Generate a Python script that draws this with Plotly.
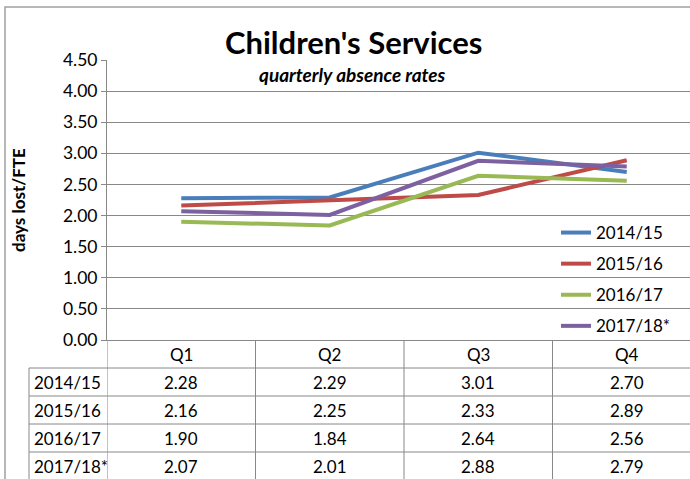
import plotly.graph_objects as go

quarters = ["Q1", "Q2", "Q3", "Q4"]
series_names = ["2014/15", "2015/16", "2016/17", "2017/18*"]
v_1415 = [2.28, 2.29, 3.01, 2.70]
v_1516 = [2.16, 2.25, 2.33, 2.89]
v_1617 = [1.90, 1.84, 2.64, 2.56]
v_1718 = [2.07, 2.01, 2.88, 2.79]
series_values = [v_1415, v_1516, v_1617, v_1718]
colors = ["#4A7EBB", "#BE4B48", "#98B954", "#7D60A0"]

W, H = 690, 479
L, T = 107, 60
PW = W - L            # plot width in px
PH = H - T            # paper height in px
GRID = "#888888"
FONT = "Lato"
FS = 17.5
TFS = 17

def px_x(px):
    return (px - L) / PW

def px_y(py):
    return (H - py) / PH

fig = go.Figure()
for name, vals, c in zip(series_names, series_values, colors):
    fig.add_trace(go.Scatter(
        x=quarters, y=vals, name=name, mode="lines",
        line=dict(color=c, width=4), legendgroup=name,
        xaxis="x", yaxis="y"))

table_h = H - 340
fig.update_layout(
    width=W, height=H,
    margin=dict(l=L, r=0, t=T, b=0, autoexpand=False),
    paper_bgcolor="white", plot_bgcolor="white",
    font=dict(family=FONT, size=FS, color="black"),
    showlegend=True,
    legend=dict(x=px_x(556), y=px_y(215), xanchor="left", yanchor="top",
                bgcolor="rgba(0,0,0,0)", font=dict(size=TFS, family=FONT),
                tracegroupgap=6, itemwidth=30),
    xaxis=dict(type="category", range=[-0.5, -0.5 + PW / 148.5],
               showgrid=False, showline=True, linecolor=GRID, linewidth=1,
               ticks="", showticklabels=False,
               anchor="y", zeroline=False, automargin=False),
    yaxis=dict(domain=[table_h / PH, 1], range=[0, 4.5], dtick=0.5,
               tickformat=".2f", showgrid=True, gridcolor=GRID, gridwidth=1,
               showline=True, linecolor=GRID, linewidth=1,
               ticks="outside", ticklen=5, tickcolor=GRID,
               tickfont=dict(size=FS, family=FONT), zeroline=False,
               automargin=False),
    yaxis2=dict(domain=[0, table_h / PH], range=[table_h / 28, 0],
                visible=False, anchor="x", automargin=False),
)

shapes = []
# outer chart border
shapes.append(dict(type="rect", xref="paper", yref="paper",
                   x0=px_x(5), x1=1.05, y0=-0.05, y1=px_y(7),
                   line=dict(color="#A0A0A0", width=1.5), layer="below"))
# table horizontal lines
for r in range(1, 5):
    shapes.append(dict(type="line", xref="paper", yref="y2",
                       x0=px_x(29), x1=1.01, y0=r, y1=r,
                       line=dict(color=GRID, width=1)))
# table vertical lines (category boundaries)
for b in [-0.5, 0.5, 1.5, 2.5]:
    shapes.append(dict(type="line", xref="x", yref="y2",
                       x0=b, x1=b, y0=0, y1=6,
                       line=dict(color=GRID, width=1)))
# row-label column left border
shapes.append(dict(type="line", xref="paper", yref="y2",
                   x0=px_x(29), x1=px_x(29), y0=1, y1=6,
                   line=dict(color=GRID, width=1)))
fig.update_layout(shapes=shapes)

ann = []
# header row: quarter labels
for q in quarters:
    ann.append(dict(xref="x", yref="y2", x=q, y=0.5, text=q,
                    showarrow=False, xanchor="center", yanchor="middle",
                    font=dict(size=TFS, family=FONT)))
for r, (name, vals) in enumerate(zip(series_names, series_values), start=1):
    ann.append(dict(xref="paper", yref="y2", x=px_x(32), y=r + 0.5,
                    text=name, showarrow=False, xanchor="left",
                    yanchor="middle", font=dict(size=TFS, family=FONT)))
    for q, v in zip(quarters, vals):
        ann.append(dict(xref="x", yref="y2", x=q, y=r + 0.5,
                        text=f"{v:.2f}", showarrow=False,
                        xanchor="center", yanchor="middle",
                        font=dict(size=TFS, family=FONT)))
ann.append(dict(xref="paper", yref="paper", x=px_x(353), y=px_y(42),
                text="<b>Children's Services</b>", showarrow=False,
                xanchor="center", yanchor="middle",
                font=dict(size=31, family=FONT)))
ann.append(dict(xref="paper", yref="paper", x=px_x(352), y=px_y(74),
                text="<b><i>quarterly absence rates</i></b>", showarrow=False,
                xanchor="center", yanchor="middle",
                font=dict(size=19, family=FONT)))
ann.append(dict(xref="paper", yref="paper", x=px_x(18), y=px_y(200),
                text="<b>days lost/FTE</b>", showarrow=False, textangle=-90,
                xanchor="center", yanchor="middle",
                font=dict(size=17, family=FONT)))
fig.update_layout(annotations=ann)

fig.write_html("out.html")
